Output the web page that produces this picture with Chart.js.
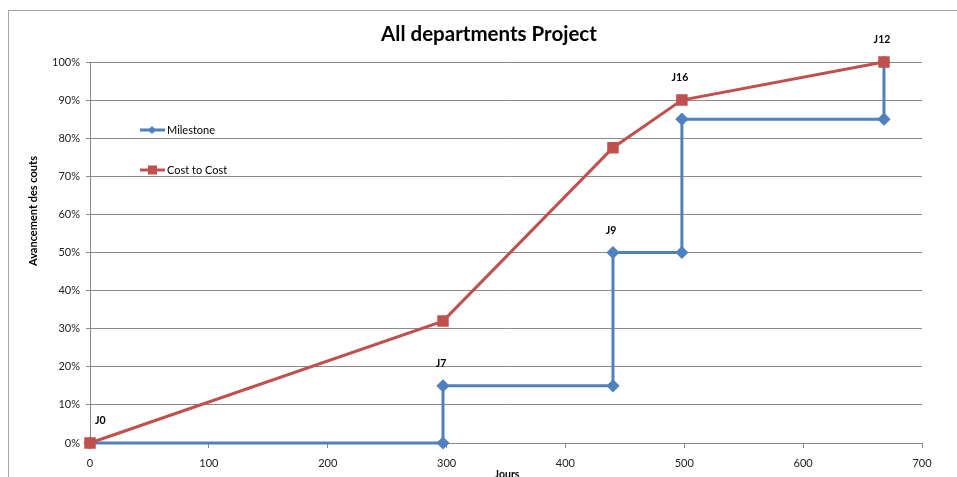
<!DOCTYPE html>
<html>
<head>
<meta charset="utf-8">
<script src="https://cdn.jsdelivr.net/npm/chart.js@4/dist/chart.umd.min.js"></script>
<style>
html,body{margin:0;padding:0;background:#fff;}
#wrap{width:957px;height:477px;position:relative;}
</style>
</head>
<body>
<div id="wrap"><canvas id="c" width="957" height="477"></canvas></div>
<script>
// ---- data ----
const chartTitle = 'All departments Project';
const xAxisTitle = 'Jours';
const yAxisTitle = 'Avancement des couts';
const seriesNames = ['Milestone', 'Cost to Cost'];
const milestoneX = [0, 297, 297, 440, 440, 498, 498, 668, 668];
const milestoneY = [0, 0, 15, 15, 50, 50, 85, 85, 100];
const costX = [0, 297, 440, 498, 668];
const costY = [0, 32, 77.5, 90, 100];
const xTicks = [0, 100, 200, 300, 400, 500, 600, 700];
const yTicks = [0, 10, 20, 30, 40, 50, 60, 70, 80, 90, 100];
// point labels: [series index, point index, text]
const pointLabels = [[1, 0, 'J0'], [0, 2, 'J7'], [0, 4, 'J9'], [1, 3, 'J16'], [1, 4, 'J12']];

const BLUE = '#4F81BD', RED = '#C0504D', GRID = '#8a8a8a';
const FONT = 'Lato, "Noto Sans", sans-serif';

const toPts = (xs, ys) => xs.map((x, i) => ({x: x, y: ys[i]}));

const decor = {
  id: 'decor',
  beforeDraw(chart) {
    const ctx = chart.ctx;
    ctx.save();
    ctx.fillStyle = '#fff';
    ctx.fillRect(0, 0, chart.width, chart.height);
    ctx.strokeStyle = '#a6a6a6';
    ctx.lineWidth = 1;
    ctx.strokeRect(8.5, 10.5, 1200, 1200);
    ctx.restore();
  },
  afterDatasetsDraw(chart) {
    const ctx = chart.ctx;
    const xs = chart.scales.x, ys = chart.scales.y;
    ctx.save();
    // title
    ctx.fillStyle = '#000';
    ctx.textAlign = 'center';
    ctx.textBaseline = 'middle';
    ctx.font = 'bold 20.5px ' + FONT;
    ctx.fillText(chartTitle, 489, 34);
    // axis titles
    ctx.font = 'bold 10.5px ' + FONT;
    ctx.fillText(xAxisTitle, 507, 475);
    ctx.save();
    ctx.translate(33, 211);
    ctx.rotate(-Math.PI / 2);
    ctx.font = 'bold 11px ' + FONT;
    ctx.fillText(yAxisTitle, 0, 0);
    ctx.restore();
    // point labels
    ctx.font = 'bold 10.5px ' + FONT;
    pointLabels.forEach(([s, i, t]) => {
      const ds = chart.data.datasets[s].data[i];
      let px = xs.getPixelForValue(ds.x), py = ys.getPixelForValue(ds.y);
      if (i === 0 && s === 1) { ctx.textAlign = 'left'; px += 7; }
      else ctx.textAlign = 'center';
      ctx.fillText(t, px - 2, py - 22);
    });
    // legend
    const legY = [130, 170];
    ctx.textAlign = 'left';
    ctx.font = '11px ' + FONT;
    [BLUE, RED].forEach((col, k) => {
      const y = legY[k];
      ctx.strokeStyle = col;
      ctx.lineWidth = 3;
      ctx.beginPath(); ctx.moveTo(140, y); ctx.lineTo(165, y); ctx.stroke();
      ctx.fillStyle = col;
      if (k === 0) {
        ctx.beginPath();
        ctx.moveTo(152, y - 4); ctx.lineTo(156, y); ctx.lineTo(152, y + 4); ctx.lineTo(148, y);
        ctx.closePath(); ctx.fill();
      } else {
        ctx.fillRect(148, y - 4.5, 9, 9);
      }
      ctx.fillStyle = '#000';
      ctx.textBaseline = 'middle';
      ctx.fillText(seriesNames[k], 167, y + 0.5);
    });
    ctx.restore();
  }
};

new Chart(document.getElementById('c'), {
  type: 'line',
  data: {
    datasets: [
      {
        label: seriesNames[0], data: toPts(milestoneX, milestoneY),
        borderColor: BLUE, backgroundColor: BLUE, borderWidth: 3,
        pointStyle: 'rectRot', pointRadius: 4.5, pointHoverRadius: 4.5,
        tension: 0, clip: false, order: 2
      },
      {
        label: seriesNames[1], data: toPts(costX, costY),
        borderColor: RED, backgroundColor: RED, borderWidth: 3,
        pointStyle: 'rect', pointRadius: 6, pointHoverRadius: 6,
        tension: 0, clip: false, order: 1
      }
    ]
  },
  options: {
    responsive: false,
    animation: false,
    events: [],
    layout: {padding: {left: 0, right: 35, top: 62, bottom: 0}},
    plugins: {legend: {display: false}, title: {display: false}, tooltip: {enabled: false}},
    scales: {
      x: {
        type: 'linear', min: 0, max: 700,
        afterFit: s => { s.height = 34; },
        afterBuildTicks: s => { s.ticks = xTicks.map(v => ({value: v})); },
        grid: {display: true, drawOnChartArea: false, drawTicks: true, tickLength: 5, color: GRID},
        border: {display: true, color: GRID, width: 1},
        ticks: {color: '#222', font: {family: FONT, size: 11}, padding: 9, maxRotation: 0}
      },
      y: {
        type: 'linear', min: 0, max: 100,
        afterFit: s => { s.width = 90; },
        afterBuildTicks: s => { s.ticks = yTicks.map(v => ({value: v})); },
        grid: {color: GRID, tickLength: 4, lineWidth: 1},
        border: {display: true, color: GRID, width: 1},
        ticks: {color: '#222', font: {family: FONT, size: 11}, padding: 6, callback: v => v + '%'}
      }
    }
  },
  plugins: [decor]
});
</script>
</body>
</html>
